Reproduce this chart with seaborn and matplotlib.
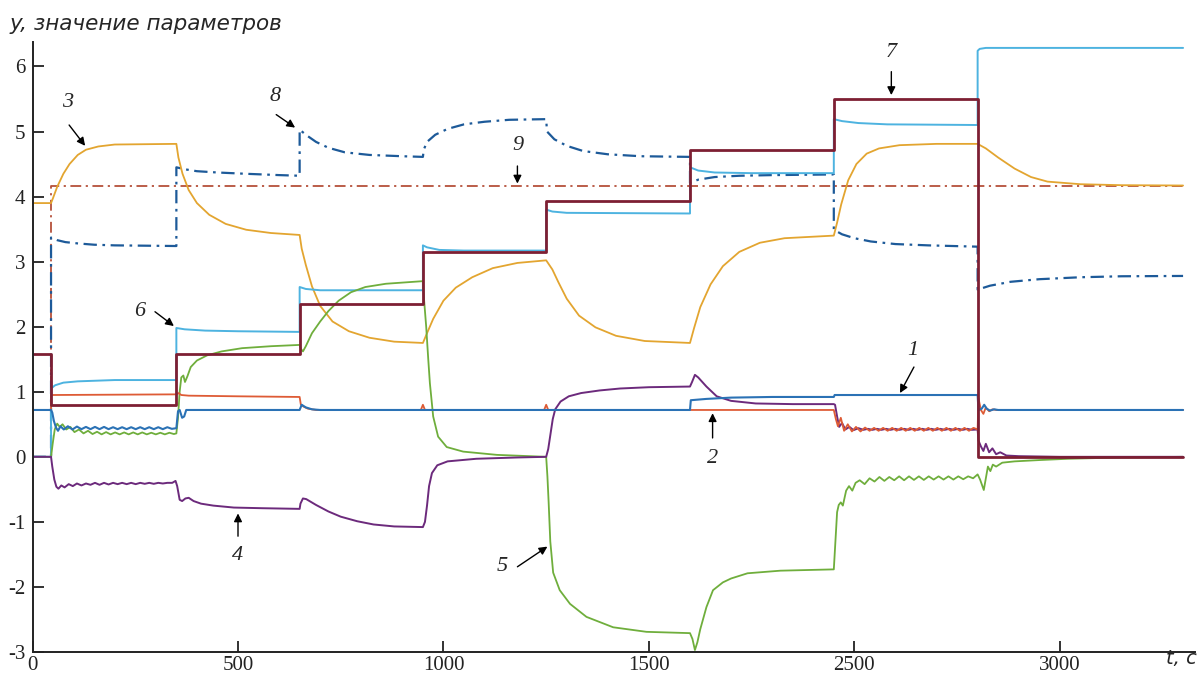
import numpy as np
import matplotlib.pyplot as plt
import seaborn as sns

# Step 1: style (set fonts after seaborn, it resets font.family)
sns.set_style('ticks')
plt.rcParams['font.family'] = ['Liberation Serif', 'DejaVu Serif']

# --- Data (time in axis units, as drawn) ---

# 7: reference step signal
t_7 = [0, 45, 45, 350, 350, 650, 650, 950, 950, 1250, 1250, 1600, 1600, 1950, 1950, 2300, 2300, 2800]
y_7 = [1.58, 1.58, 0.79, 0.79, 1.58, 1.58, 2.35, 2.35, 3.15, 3.15, 3.93, 3.93, 4.72, 4.72, 5.50, 5.50, 0.0, 0.0]

# 9: constant after start
t_9 = [0, 45, 45, 2800]
y_9 = [0.0, 0.0, 4.17, 4.17]

# 8: dash-dot blue
t_8 = [0, 45, 45, 60, 80, 110, 150, 200, 350,
       350, 370, 400, 450, 520, 600, 650,
       650, 665, 690, 720, 760, 820, 900, 950,
       952, 960, 980, 1010, 1050, 1100, 1160, 1250,
       1252, 1270, 1300, 1340, 1400, 1480, 1600,
       1600, 1620, 1660, 1720, 1800, 1950,
       1950, 1970, 2000, 2040, 2100, 2180, 2300,
       2300, 2330, 2380, 2450, 2550, 2650, 2800]
y_8 = [0.0, 0.0, 3.37, 3.33, 3.30, 3.28, 3.26, 3.25, 3.24,
       4.45, 4.42, 4.39, 4.37, 4.35, 4.33, 4.32,
       5.03, 4.95, 4.84, 4.75, 4.68, 4.64, 4.62, 4.61,
       4.72, 4.84, 4.95, 5.04, 5.11, 5.15, 5.18, 5.19,
       5.00, 4.88, 4.78, 4.70, 4.65, 4.62, 4.61,
       4.21, 4.26, 4.30, 4.32, 4.33, 4.34,
       3.49, 3.42, 3.36, 3.31, 3.27, 3.25, 3.23,
       2.57, 2.63, 2.69, 2.73, 2.76, 2.775, 2.78]

# 3: gold
t_3 = [0, 45, 50, 60, 75, 90, 110, 130, 160, 200, 350,
       355, 365, 380, 400, 430, 470, 520, 580, 650,
       655, 665, 680, 700, 730, 770, 820, 880, 950,
       960, 975, 1000, 1030, 1070, 1120, 1180, 1250,
       1265, 1280, 1300, 1330, 1370, 1420, 1490, 1600,
       1610, 1625, 1650, 1680, 1720, 1770, 1830, 1950,
       1958, 1968, 1985, 2005, 2030, 2060, 2110, 2200, 2300,
       2320, 2350, 2390, 2430, 2470, 2550, 2650, 2800]
y_3 = [3.90, 3.90, 3.98, 4.15, 4.35, 4.50, 4.64, 4.72, 4.77, 4.80, 4.81,
       4.60, 4.35, 4.10, 3.90, 3.72, 3.58, 3.49, 3.44, 3.41,
       3.20, 2.95, 2.62, 2.32, 2.08, 1.93, 1.83, 1.77, 1.75,
       1.90, 2.12, 2.40, 2.60, 2.76, 2.90, 2.98, 3.02,
       2.88, 2.68, 2.43, 2.17, 1.99, 1.86, 1.78, 1.75,
       1.98, 2.30, 2.65, 2.93, 3.15, 3.29, 3.36, 3.40,
       3.60, 3.88, 4.25, 4.50, 4.66, 4.74, 4.79, 4.81, 4.81,
       4.74, 4.60, 4.43, 4.30, 4.23, 4.19, 4.175, 4.17]

# 6: light blue
t_6 = [0, 45, 45, 55, 75, 110, 200, 350,
       350, 370, 420, 500, 650,
       650, 665, 700, 950,
       950, 960, 990, 1050, 1250,
       1250, 1265, 1300, 1600,
       1600, 1620, 1660, 1750, 1950,
       1950, 1970, 2010, 2080, 2300,
       2300, 2305, 2320, 2800]
y_6 = [0.0, 0.0, 1.05, 1.10, 1.14, 1.16, 1.18, 1.18,
       1.98, 1.96, 1.94, 1.93, 1.92,
       2.61, 2.58, 2.56, 2.56,
       3.25, 3.22, 3.18, 3.17, 3.17,
       3.80, 3.77, 3.75, 3.74,
       4.45, 4.40, 4.37, 4.36, 4.36,
       5.19, 5.16, 5.13, 5.11, 5.10,
       6.24, 6.27, 6.285, 6.285]

# 5: green
t_5 = [0, 45, 49, 54, 60, 66, 73, 82, 92, 102, 113, 124, 135, 146, 157, 168, 179, 190,
       201, 212, 223, 234, 245, 256, 267, 278, 289, 300, 311, 322, 333, 344, 350,
       354, 358, 362, 367, 371, 377, 385, 400, 425, 460, 510, 580, 650,
       653, 658, 665, 680, 700, 720, 745, 775, 810, 860, 950,
       953, 958, 963, 967, 975, 987, 1008, 1048, 1130, 1250,
       1253, 1256, 1260, 1267, 1283, 1308, 1348, 1413, 1494, 1600,
       1606, 1612, 1618, 1625, 1640, 1656, 1680, 1700, 1740, 1820, 1950,
       1954, 1958, 1962, 1967, 1972, 1980, 1987, 1995, 2003, 2013, 2025, 2037, 2049,
       2061, 2073, 2085, 2097, 2109, 2121, 2133, 2145, 2157, 2169, 2181, 2193, 2205,
       2217, 2229, 2241, 2253, 2265, 2277, 2289, 2300,
       2306, 2315, 2325, 2331, 2337, 2345, 2360, 2390, 2450, 2520, 2650, 2800]
y_5 = [0.0, 0.0, 0.20, 0.42, 0.51, 0.46, 0.50, 0.42, 0.46, 0.38, 0.42, 0.36, 0.40, 0.35, 0.385, 0.345, 0.38, 0.345,
       0.375, 0.345, 0.375, 0.345, 0.375, 0.345, 0.375, 0.345, 0.37, 0.345, 0.37, 0.345, 0.37, 0.35, 0.36,
       0.60, 1.00, 1.22, 1.25, 1.15, 1.24, 1.38, 1.48, 1.56, 1.62, 1.67, 1.70, 1.72,
       1.66, 1.62, 1.70, 1.90, 2.08, 2.24, 2.40, 2.53, 2.61, 2.66, 2.70,
       2.40, 2.00, 1.50, 1.13, 0.62, 0.31, 0.15, 0.08, 0.03, 0.0,
       -0.30, -0.70, -1.30, -1.78, -2.05, -2.26, -2.46, -2.62, -2.69, -2.71,
       -2.80, -2.97, -2.85, -2.65, -2.31, -2.05, -1.93, -1.87, -1.79, -1.75, -1.73,
       -1.30, -0.85, -0.74, -0.70, -0.75, -0.52, -0.45, -0.52, -0.40, -0.36, -0.42, -0.33, -0.38,
       -0.31, -0.37, -0.31, -0.36, -0.30, -0.36, -0.30, -0.355, -0.30, -0.355, -0.30, -0.35, -0.30,
       -0.35, -0.30, -0.35, -0.30, -0.345, -0.30, -0.33, -0.27,
       -0.35, -0.51, -0.15, -0.22, -0.12, -0.15, -0.09, -0.07, -0.05, -0.03, -0.01, 0.0]

# 4: purple
t_4 = [0, 45, 48, 53, 58, 63, 70, 78, 88, 98, 108, 119, 130, 141, 152, 163, 174, 185,
       196, 207, 218, 229, 240, 251, 262, 273, 284, 295, 306, 317, 328, 340, 348,
       352, 358, 364, 372, 380, 392, 410, 440, 490, 560, 650,
       652, 658, 666, 690, 720, 750, 790, 830, 880, 950,
       955, 960, 965, 972, 985, 1010, 1080, 1180, 1250,
       1255, 1260, 1266, 1272, 1285, 1305, 1335, 1380, 1430, 1500, 1600,
       1605, 1612, 1620, 1640, 1665, 1700, 1760, 1850, 1950,
       1953, 1958, 1963, 1970, 1978, 1988, 1998, 2010, 2022, 2033, 2044, 2055, 2066,
       2077, 2088, 2099, 2110, 2121, 2132, 2143, 2154, 2165, 2176, 2187, 2198, 2209,
       2220, 2231, 2242, 2253, 2264, 2275, 2286, 2300,
       2302, 2308, 2314, 2320, 2328, 2336, 2345, 2355, 2370, 2400, 2500, 2800]
y_4 = [0.0, 0.0, -0.15, -0.35, -0.46, -0.49, -0.44, -0.47, -0.42, -0.45, -0.41, -0.44, -0.41, -0.43, -0.40, -0.43, -0.40, -0.425,
       -0.40, -0.42, -0.40, -0.42, -0.40, -0.42, -0.40, -0.415, -0.40, -0.415, -0.40, -0.41, -0.40, -0.40, -0.37,
       -0.45, -0.66, -0.68, -0.64, -0.63, -0.68, -0.72, -0.75, -0.78, -0.79, -0.80,
       -0.72, -0.64, -0.65, -0.74, -0.84, -0.92, -0.99, -1.04, -1.07, -1.08,
       -1.00, -0.75, -0.45, -0.25, -0.13, -0.07, -0.03, -0.01, 0.0,
       0.12, 0.33, 0.58, 0.73, 0.85, 0.93, 0.98, 1.02, 1.05, 1.07, 1.08,
       1.15, 1.26, 1.22, 1.08, 0.93, 0.86, 0.82, 0.81, 0.81,
       0.80, 0.62, 0.46, 0.52, 0.42, 0.46, 0.41, 0.44, 0.415, 0.43, 0.415, 0.43, 0.415,
       0.43, 0.415, 0.43, 0.415, 0.43, 0.415, 0.43, 0.415, 0.43, 0.415, 0.43, 0.415, 0.43,
       0.415, 0.43, 0.415, 0.43, 0.415, 0.43, 0.415, 0.42,
       0.25, 0.16, 0.09, 0.20, 0.07, 0.13, 0.04, 0.07, 0.02, 0.01, 0.0, 0.0]

# 2: red
t_2 = [0, 45, 45, 350, 355, 362, 380, 500, 650,
       653, 660, 670, 690, 945, 950, 955, 1245, 1250, 1255, 1950,
       1955, 1960, 1967, 1975, 1984, 1994, 2004, 2015, 2026, 2037, 2048,
       2059, 2070, 2081, 2092, 2103, 2114, 2125, 2136, 2147, 2158, 2169, 2180,
       2191, 2202, 2213, 2224, 2235, 2246, 2257, 2268, 2279, 2290, 2300,
       2302, 2308, 2314, 2320, 2328, 2336, 2346, 2800]
y_2 = [0.72, 0.72, 0.95, 0.96, 0.98, 0.95, 0.94, 0.93, 0.92,
       0.80, 0.77, 0.74, 0.72, 0.72, 0.80, 0.72, 0.72, 0.80, 0.72, 0.72,
       0.58, 0.47, 0.60, 0.40, 0.50, 0.39, 0.46, 0.39, 0.45, 0.40, 0.445,
       0.40, 0.445, 0.40, 0.445, 0.40, 0.445, 0.40, 0.445, 0.40, 0.445, 0.40, 0.445,
       0.40, 0.445, 0.40, 0.445, 0.40, 0.445, 0.40, 0.445, 0.40, 0.445, 0.42,
       0.90, 0.72, 0.66, 0.76, 0.70, 0.73, 0.72, 0.72]

# 1: blue
t_1 = [0, 45, 48, 52, 57, 62, 68, 76, 86, 97, 108, 119, 130, 141, 152, 163, 174, 185,
       196, 207, 218, 229, 240, 251, 262, 273, 284, 295, 306, 317, 328, 339, 350,
       354, 358, 364, 369, 374, 650,
       655, 665, 680, 700, 1600,
       1602, 1640, 1700, 1800, 1950, 1952, 2300,
       2302, 2310, 2316, 2322, 2330, 2340, 2350, 2800]
y_1 = [0.72, 0.72, 0.68, 0.55, 0.45, 0.40, 0.47, 0.42, 0.47, 0.42, 0.465, 0.425, 0.46, 0.425, 0.46, 0.425, 0.46, 0.425,
       0.455, 0.425, 0.455, 0.425, 0.455, 0.425, 0.455, 0.425, 0.455, 0.425, 0.455, 0.425, 0.455, 0.43, 0.44,
       0.70, 0.72, 0.60, 0.62, 0.72, 0.72,
       0.80, 0.76, 0.73, 0.72, 0.72,
       0.87, 0.89, 0.91, 0.92, 0.92, 0.95, 0.95,
       0.72, 0.74, 0.80, 0.74, 0.71, 0.73, 0.72, 0.72]

# Axis ticks as printed on the figure (the time axis skips 2000)
x_ticks = [0, 500, 1000, 1500, 2000, 2500]
x_tick_labels = ['0', '500', '1000', '1500', '2500', '3000']
y_ticks = [-3, -2, -1, 0, 1, 2, 3, 4, 5, 6]
y_tick_labels = ['-3', '-2', '-1', '0', '1', '2', '3', '4', '5', '6']

# Curve labels: text position, arrow tail, arrow head (data units)
labels = ['1', '2', '3', '4', '5', '6', '7', '8', '9']
label_pos = [(2142, 1.64), (1655, -0.02), (86, 5.44), (500, -1.51), (1142, -1.69),
             (260, 2.23), (2090, 6.21), (591, 5.54), (1180, 4.78)]
arrow_tail = [(2145, 1.38), (1655, 0.29), (89, 5.10), (500, -1.22), (1180, -1.69),
              (298, 2.23), (2090, 5.92), (593, 5.26), (1180, 4.47)]
arrow_head = [(2111, 0.98), (1655, 0.67), (128, 4.78), (500, -0.87), (1253, -1.38),
              (344, 2.01), (2090, 5.56), (639, 5.06), (1180, 4.20)]

# --- Plot ---
fig = plt.figure(figsize=(12.01, 6.73), dpi=100)
ax = fig.add_axes([0.0271, 0.0312, 0.9679, 0.9068])

series = [
    (t_9, y_9, '#b5503a', 1.3, (0, (6, 2.5, 1.2, 2.5))),
    (t_8, y_8, '#1d5a99', 1.6, (0, (6, 2.5, 1.2, 2.5))),
    (t_3, y_3, '#e3a530', 1.3, '-'),
    (t_6, y_6, '#4db3e0', 1.4, '-'),
    (t_5, y_5, '#6fae3c', 1.3, '-'),
    (t_4, y_4, '#6c2a7c', 1.4, '-'),
    (t_2, y_2, '#de5b35', 1.3, '-'),
    (t_1, y_1, '#2b72b5', 1.5, '-'),
    (t_7, y_7, '#7d1f33', 2.0, '-'),
]
for t, y, color, lw, ls in series:
    sns.lineplot(x=np.array(t), y=np.array(y), ax=ax, estimator=None, sort=False,
                 color=color, linewidth=lw, linestyle=ls)

ax.set_xlim(0, 2829)
ax.set_ylim(-3, 6.38)
ax.set_xticks(x_ticks)
ax.set_xticklabels(x_tick_labels)
ax.set_yticks(y_ticks)
ax.set_yticklabels(y_tick_labels)
ax.tick_params(axis='both', direction='in', length=8, width=1.3, labelsize=15, colors='#222222')
ax.tick_params(axis='y', pad=5)
ax.tick_params(axis='x', pad=3)
for side in ['top', 'right']:
    ax.spines[side].set_visible(False)
for side in ['left', 'bottom']:
    ax.spines[side].set_linewidth(1.4)
    ax.spines[side].set_color('#222222')
ax.set_xlabel('')
ax.set_ylabel('')

for lab, p, tail, head in zip(labels, label_pos, arrow_tail, arrow_head):
    ax.text(p[0], p[1], lab, ha='center', va='center', fontsize=16, style='italic',
            family=['Liberation Serif', 'DejaVu Serif'])
    ax.annotate('', xy=head, xytext=tail,
                arrowprops=dict(arrowstyle='-|>', color='black', lw=1.0, mutation_scale=12,
                                shrinkA=0, shrinkB=0))

fig.text(10 / 1201, 1 - 30 / 673, 'y, значение параметров', fontsize=15.5, style='italic',
         family=['DejaVu Sans'], ha='left', va='baseline')
fig.text(1197 / 1201, 1 - 668 / 673, 't, c', fontsize=14, style='italic',
         family=['DejaVu Sans'], ha='right', va='bottom')

fig.savefig('out.png', dpi=100)
